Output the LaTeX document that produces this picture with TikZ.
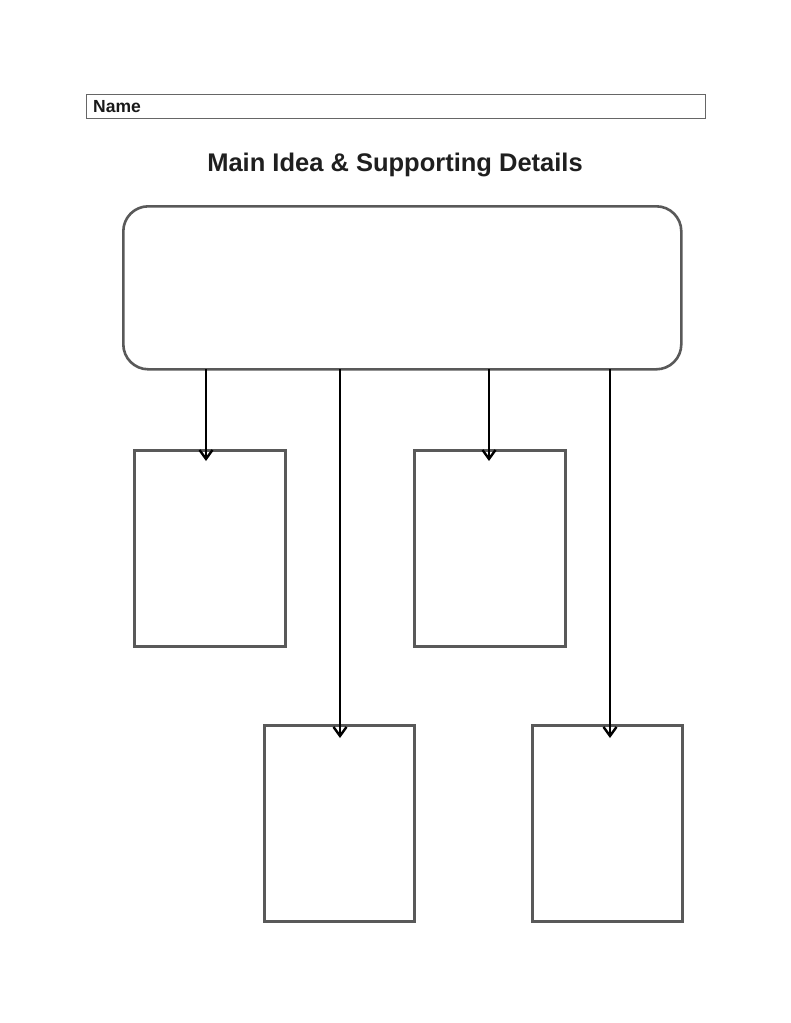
\documentclass[tikz,border=0pt]{standalone}
\usepackage{fontspec}
\setmainfont{Liberation Sans}
\usetikzlibrary{arrows.meta}
\begin{document}
\begin{tikzpicture}[x=1pt,y=-1pt,
  box/.style={draw=black!65,line width=2.6pt,inner sep=0pt},
  arr/.style={draw=black,line width=2.8pt,-{Straight Barb[length=9pt,width=13pt,line width=2.4pt]}}]
\useasboundingbox (0,0) rectangle (791,1023);
\node[draw=black!60,line width=1.2pt,minimum width=619pt,minimum height=24pt,inner sep=0pt,anchor=north west] (name) at (86,94) {};
\node[anchor=west,inner sep=0pt,text=black!90,font=\bfseries\fontsize{17.5}{20}\selectfont] (nl) at (93,106.5) {Name};
\node[text=black!88,font=\bfseries\fontsize{25.5}{30}\selectfont] (title) at (395,165) {Main Idea \& Supporting Details};
\node[box,rounded corners=25pt,minimum width=558pt,minimum height=163pt,anchor=north west] (main) at (122,205) {};
\node[box,minimum width=151pt,minimum height=196pt,anchor=north west] (b1) at (133,449) {};
\node[box,minimum width=151pt,minimum height=196pt,anchor=north west] (b2) at (413,449) {};
\node[box,minimum width=150pt,minimum height=196pt,anchor=north west] (b3) at (263,724) {};
\node[box,minimum width=150pt,minimum height=196pt,anchor=north west] (b4) at (531,724) {};
\coordinate (s1) at (206,369); \coordinate (e1) at (206,461);
\coordinate (s2) at (340,369); \coordinate (e2) at (340,738);
\coordinate (s3) at (489,369); \coordinate (e3) at (489,461);
\coordinate (s4) at (610,369); \coordinate (e4) at (610,738);
\draw[arr] (s1) -- (e1);
\draw[arr] (s2) -- (e2);
\draw[arr] (s3) -- (e3);
\draw[arr] (s4) -- (e4);
\end{tikzpicture}
\end{document}
